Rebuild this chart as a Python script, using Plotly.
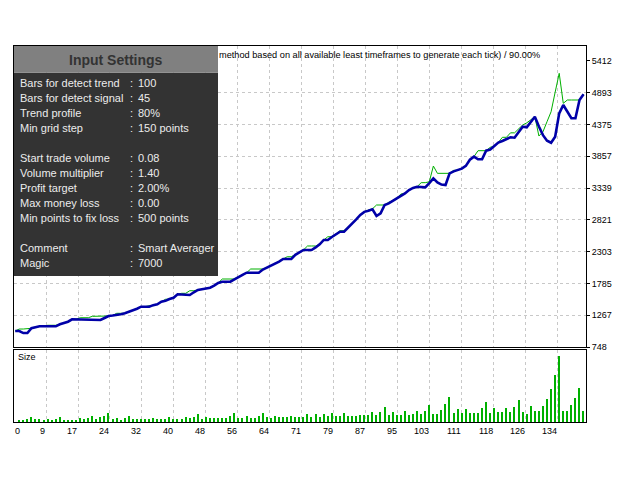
import plotly.graph_objects as go

# Trade numbers on the x axis (0 = start, bars from 1 on)
trade_no = list(range(141))

# Balance curve (blue), one value per trade
balance = [
    1009, 1009, 975, 975, 1053, 1070, 1085, 1085, 1085, 1085,
    1085, 1118, 1140, 1160, 1199, 1199, 1199, 1199, 1199, 1199,
    1188, 1188, 1220, 1253, 1262, 1269, 1283, 1297, 1318, 1340,
    1372, 1405, 1405, 1405, 1430, 1444, 1486, 1500, 1530, 1551,
    1607, 1607, 1595, 1595, 1640, 1677, 1690, 1704, 1714, 1747,
    1791, 1812, 1812, 1812, 1850, 1894, 1925, 1959, 1959, 1959,
    1959, 2010, 2040, 2070, 2100, 2140, 2182, 2182, 2182, 2250,
    2290, 2329, 2329, 2329, 2370, 2421, 2492, 2492, 2540, 2590,
    2627, 2627, 2700, 2760, 2829, 2900, 2950, 2969, 2992, 2883,
    2927, 3062, 3089, 3130, 3171, 3210, 3250, 3306, 3340, 3360,
    3355, 3350, 3420, 3497, 3430, 3395, 3388, 3578, 3610, 3635,
    3655, 3700, 3800, 3849, 3807, 3807, 3947, 3965, 4020, 4080,
    4105, 4130, 4165, 4159, 4250, 4338, 4328, 4420, 4501, 4340,
    4200, 4110, 4077, 4175, 4556, 4691, 4580, 4475, 4475, 4773,
    4866,
]

# Equity curve (green), one value per trade
equity = [
    1009, 1041, 1041, 1041, 1053, 1070, 1085, 1085, 1102, 1102,
    1102, 1118, 1140, 1160, 1199, 1199, 1225, 1225, 1225, 1248,
    1248, 1248, 1248, 1253, 1262, 1297, 1297, 1297, 1318, 1340,
    1372, 1405, 1405, 1421, 1421, 1444, 1486, 1525, 1530, 1551,
    1607, 1623, 1623, 1665, 1665, 1677, 1690, 1704, 1714, 1747,
    1791, 1856, 1856, 1856, 1856, 1894, 1925, 1959, 2019, 2019,
    2019, 2019, 2040, 2070, 2100, 2140, 2182, 2219, 2219, 2250,
    2290, 2329, 2394, 2394, 2394, 2421, 2492, 2545, 2545, 2590,
    2643, 2643, 2700, 2760, 2829, 2900, 2950, 2980, 3000, 3062,
    3062, 3062, 3106, 3130, 3171, 3241, 3250, 3306, 3340, 3360,
    3426, 3426, 3440, 3697, 3578, 3578, 3578, 3578, 3627, 3627,
    3660, 3700, 3800, 3849, 3947, 3947, 3947, 4002, 4020, 4080,
    4165, 4165, 4238, 4238, 4300, 4366, 4400, 4450, 4501, 4186,
    4256, 4420, 4582, 4900, 5208, 4719, 4773, 4773, 4773, 4773,
    4866,
]

# Trade size (lots) for trades 1..140
sizes = [
    0.08, 0.11, 0.13, 0.21, 0.12, 0.12, 0.09, 0.12, 0.11, 0.13,
    0.21, 0.09, 0.09, 0.09, 0.09, 0.17, 0.12, 0.19, 0.25, 0.12,
    0.20, 0.25, 0.36, 0.12, 0.16, 0.11, 0.19, 0.25, 0.13, 0.13,
    0.13, 0.12, 0.13, 0.16, 0.13, 0.13, 0.15, 0.21, 0.13, 0.13,
    0.13, 0.21, 0.17, 0.23, 0.33, 0.13, 0.21, 0.17, 0.17, 0.17,
    0.16, 0.16, 0.24, 0.36, 0.16, 0.16, 0.27, 0.16, 0.16, 0.27,
    0.36, 0.20, 0.16, 0.27, 0.20, 0.20, 0.20, 0.27, 0.20, 0.20,
    0.20, 0.32, 0.20, 0.32, 0.20, 0.32, 0.24, 0.36, 0.24, 0.24,
    0.36, 0.24, 0.24, 0.24, 0.28, 0.28, 0.28, 0.40, 0.28, 0.40,
    0.60, 0.28, 0.40, 0.28, 0.29, 0.44, 0.28, 0.32, 0.44, 0.33,
    0.44, 0.68, 0.32, 0.32, 0.48, 0.72, 1.00, 0.36, 0.52, 0.36,
    0.52, 0.36, 0.36, 0.36, 0.56, 0.80, 0.36, 0.56, 0.40, 0.40,
    0.56, 0.40, 0.60, 0.88, 0.40, 0.32, 0.64, 0.44, 0.44, 0.64,
    0.92, 1.32, 1.88, 2.64, 0.44, 0.44, 0.68, 0.96, 1.36, 0.44,
]

# Right axis tick values
y_ticks = [748, 1267, 1785, 2303, 2821, 3339, 3857, 4375, 4893, 5412]

# Bottom axis tick labels (one per vertical grid line)
x_tick_labels = ["0", "9", "17", "24", "32", "40", "48", "56", "64", "71",
                 "79", "87", "95", "103", "111", "118", "126", "134"]

# Input settings panel text
setting_names = ["Bars for detect trend", "Bars for detect signal", "Trend profile",
                 "Min grid step", "", "Start trade volume", "Volume multiplier",
                 "Profit target", "Max money loss", "Min points to fix loss", "",
                 "Comment", "Magic"]
setting_values = ["100", "45", "80%", "150 points", "", "0.08", "1.40", "2.00%",
                  "0.00", "500 points", "", "Smart Averager", "7000"]

TITLE_TEXT = "method based on all available least timeframes to generate each tick) / 90.00%"

# Page body adds an 8px offset, so the figure is drawn 8px smaller
PAGE_OFF = 8
FIG_W, FIG_H = 640 - PAGE_OFF, 480 - PAGE_OFF

# Plot area in screen pixels
PLOT_L, PLOT_R, PLOT_T, PLOT_B = 14, 586, 46, 422

FONT = "Liberation Sans"
GRID = "#c8c8c8"


# Screen pixel position -> paper position
def px_x(px):
    return (px - PLOT_L) / (PLOT_R - PLOT_L)


def px_y(py):
    return (PLOT_B - py) / (PLOT_B - PLOT_T)


def create_chart():
    # Grid line positions spread evenly along the trade axis
    step = 7.882
    tick_pos = [k * step - 0.3 for k in range(len(x_tick_labels))]

    fig = go.Figure()

    # Equity first so the balance line sits on top
    fig.add_trace(go.Scatter(
        x=trade_no, y=equity, mode="lines", xaxis="x2", yaxis="y",
        line=dict(color="#00b000", width=1), hoverinfo="skip"
    ))
    fig.add_trace(go.Scatter(
        x=trade_no, y=balance, mode="lines", xaxis="x2", yaxis="y",
        line=dict(color="#0000a8", width=2.6), hoverinfo="skip"
    ))

    # Trade size bars
    fig.add_trace(go.Bar(
        x=trade_no[1:], y=sizes, xaxis="x", yaxis="y2", width=0.3,
        marker=dict(color="#00b000", line=dict(width=0)), hoverinfo="skip"
    ))

    x_range = [-0.3, 140.6]
    y_range = [748, 5653]

    axis_common = dict(showline=True, linecolor="black", linewidth=1, mirror=True,
                       zeroline=False)

    fig.update_layout(
        width=FIG_W, height=FIG_H,
        margin=dict(l=PLOT_L - PAGE_OFF, r=640 - PLOT_R, t=PLOT_T - PAGE_OFF,
                    b=480 - PLOT_B),
        paper_bgcolor="white", plot_bgcolor="white",
        showlegend=False, bargap=0,
        font=dict(family=FONT, size=9, color="black"),
        xaxis=dict(
            range=x_range, anchor="y2", tickvals=tick_pos, showticklabels=False,
            ticks="", showgrid=True, gridcolor=GRID, griddash="3px,3px", **axis_common
        ),
        xaxis2=dict(
            range=x_range, anchor="y", matches="x", tickvals=tick_pos,
            showticklabels=False, ticks="", showgrid=True, gridcolor=GRID,
            griddash="3px,3px", **axis_common
        ),
        yaxis=dict(
            domain=[px_y(347), 1], range=y_range, side="right", anchor="x2",
            tickvals=y_ticks, ticks="outside", ticklen=3, tickcolor="black",
            showgrid=False, tickfont=dict(size=9), **axis_common
        ),
        # Overlay axis only used to draw the horizontal grid (no line at the top value)
        yaxis3=dict(
            overlaying="y", range=y_range, anchor="x2", side="right",
            tickvals=y_ticks[:-1], showticklabels=False, ticks="",
            showgrid=True, gridcolor=GRID, griddash="3px,3px", zeroline=False
        ),
        yaxis2=dict(
            domain=[0, px_y(349.5)], range=[0, 2.89], anchor="x",
            showticklabels=False, ticks="", showgrid=False, **axis_common
        ),
    )

    # Empty trace so the grid overlay axis is drawn
    fig.add_trace(go.Scatter(x=[None], y=[None], xaxis="x2", yaxis="y3",
                             mode="lines", hoverinfo="skip"))

    annotations = []

    # Bottom tick labels, ending at their grid line
    for pos, label in zip(tick_pos, x_tick_labels):
        annotations.append(dict(
            x=pos, y=0, xref="x", yref="paper", text=label, showarrow=False,
            xanchor="left" if label == "0" else "right", yanchor="top",
            yshift=-2, font=dict(size=9), xshift=-1 if label == "0" else 1
        ))

    # Size label in the lower panel
    annotations.append(dict(
        x=px_x(16), y=px_y(357), xref="paper", yref="paper", text="Size",
        showarrow=False, xanchor="left", yanchor="middle", font=dict(size=9)
    ))

    # Header text of the tester chart
    annotations.append(dict(
        x=px_x(217), y=px_y(55), xref="paper", yref="paper", text=TITLE_TEXT,
        showarrow=False, xanchor="left", yanchor="middle", font=dict(size=9.2)
    ))

    # Input settings title
    annotations.append(dict(
        x=px_x(116), y=px_y(60), xref="paper", yref="paper",
        text="<b>Input Settings</b>", showarrow=False, xanchor="center",
        yanchor="middle", font=dict(size=14, color="#333333")
    ))

    # Input settings rows
    for i, (name, value) in enumerate(zip(setting_names, setting_values)):
        if not name:
            continue
        row_y = px_y(83.3 + 15 * i)
        annotations.append(dict(
            x=px_x(18), y=row_y, xref="paper", yref="paper", text=name,
            showarrow=False, xanchor="left", yanchor="middle",
            font=dict(size=11, color="#ececec")
        ))
        annotations.append(dict(
            x=px_x(127.5), y=row_y, xref="paper", yref="paper", text=":",
            showarrow=False, xanchor="left", yanchor="middle",
            font=dict(size=11, color="#ececec")
        ))
        annotations.append(dict(
            x=px_x(136), y=row_y, xref="paper", yref="paper", text=value,
            showarrow=False, xanchor="left", yanchor="middle",
            font=dict(size=11, color="#ececec")
        ))

    fig.update_layout(annotations=annotations)

    # Dark settings box with its grey header strip
    fig.add_shape(type="rect", xref="paper", yref="paper", layer="above",
                  x0=px_x(14), x1=px_x(218), y0=px_y(276), y1=px_y(72.7),
                  fillcolor="#333333", line=dict(width=0))
    fig.add_shape(type="rect", xref="paper", yref="paper", layer="above",
                  x0=px_x(14), x1=px_x(218), y0=px_y(72.7), y1=px_y(46),
                  fillcolor="#808080", line=dict(width=0))

    fig.write_html("out.html")


if __name__ == "__main__":
    create_chart()
